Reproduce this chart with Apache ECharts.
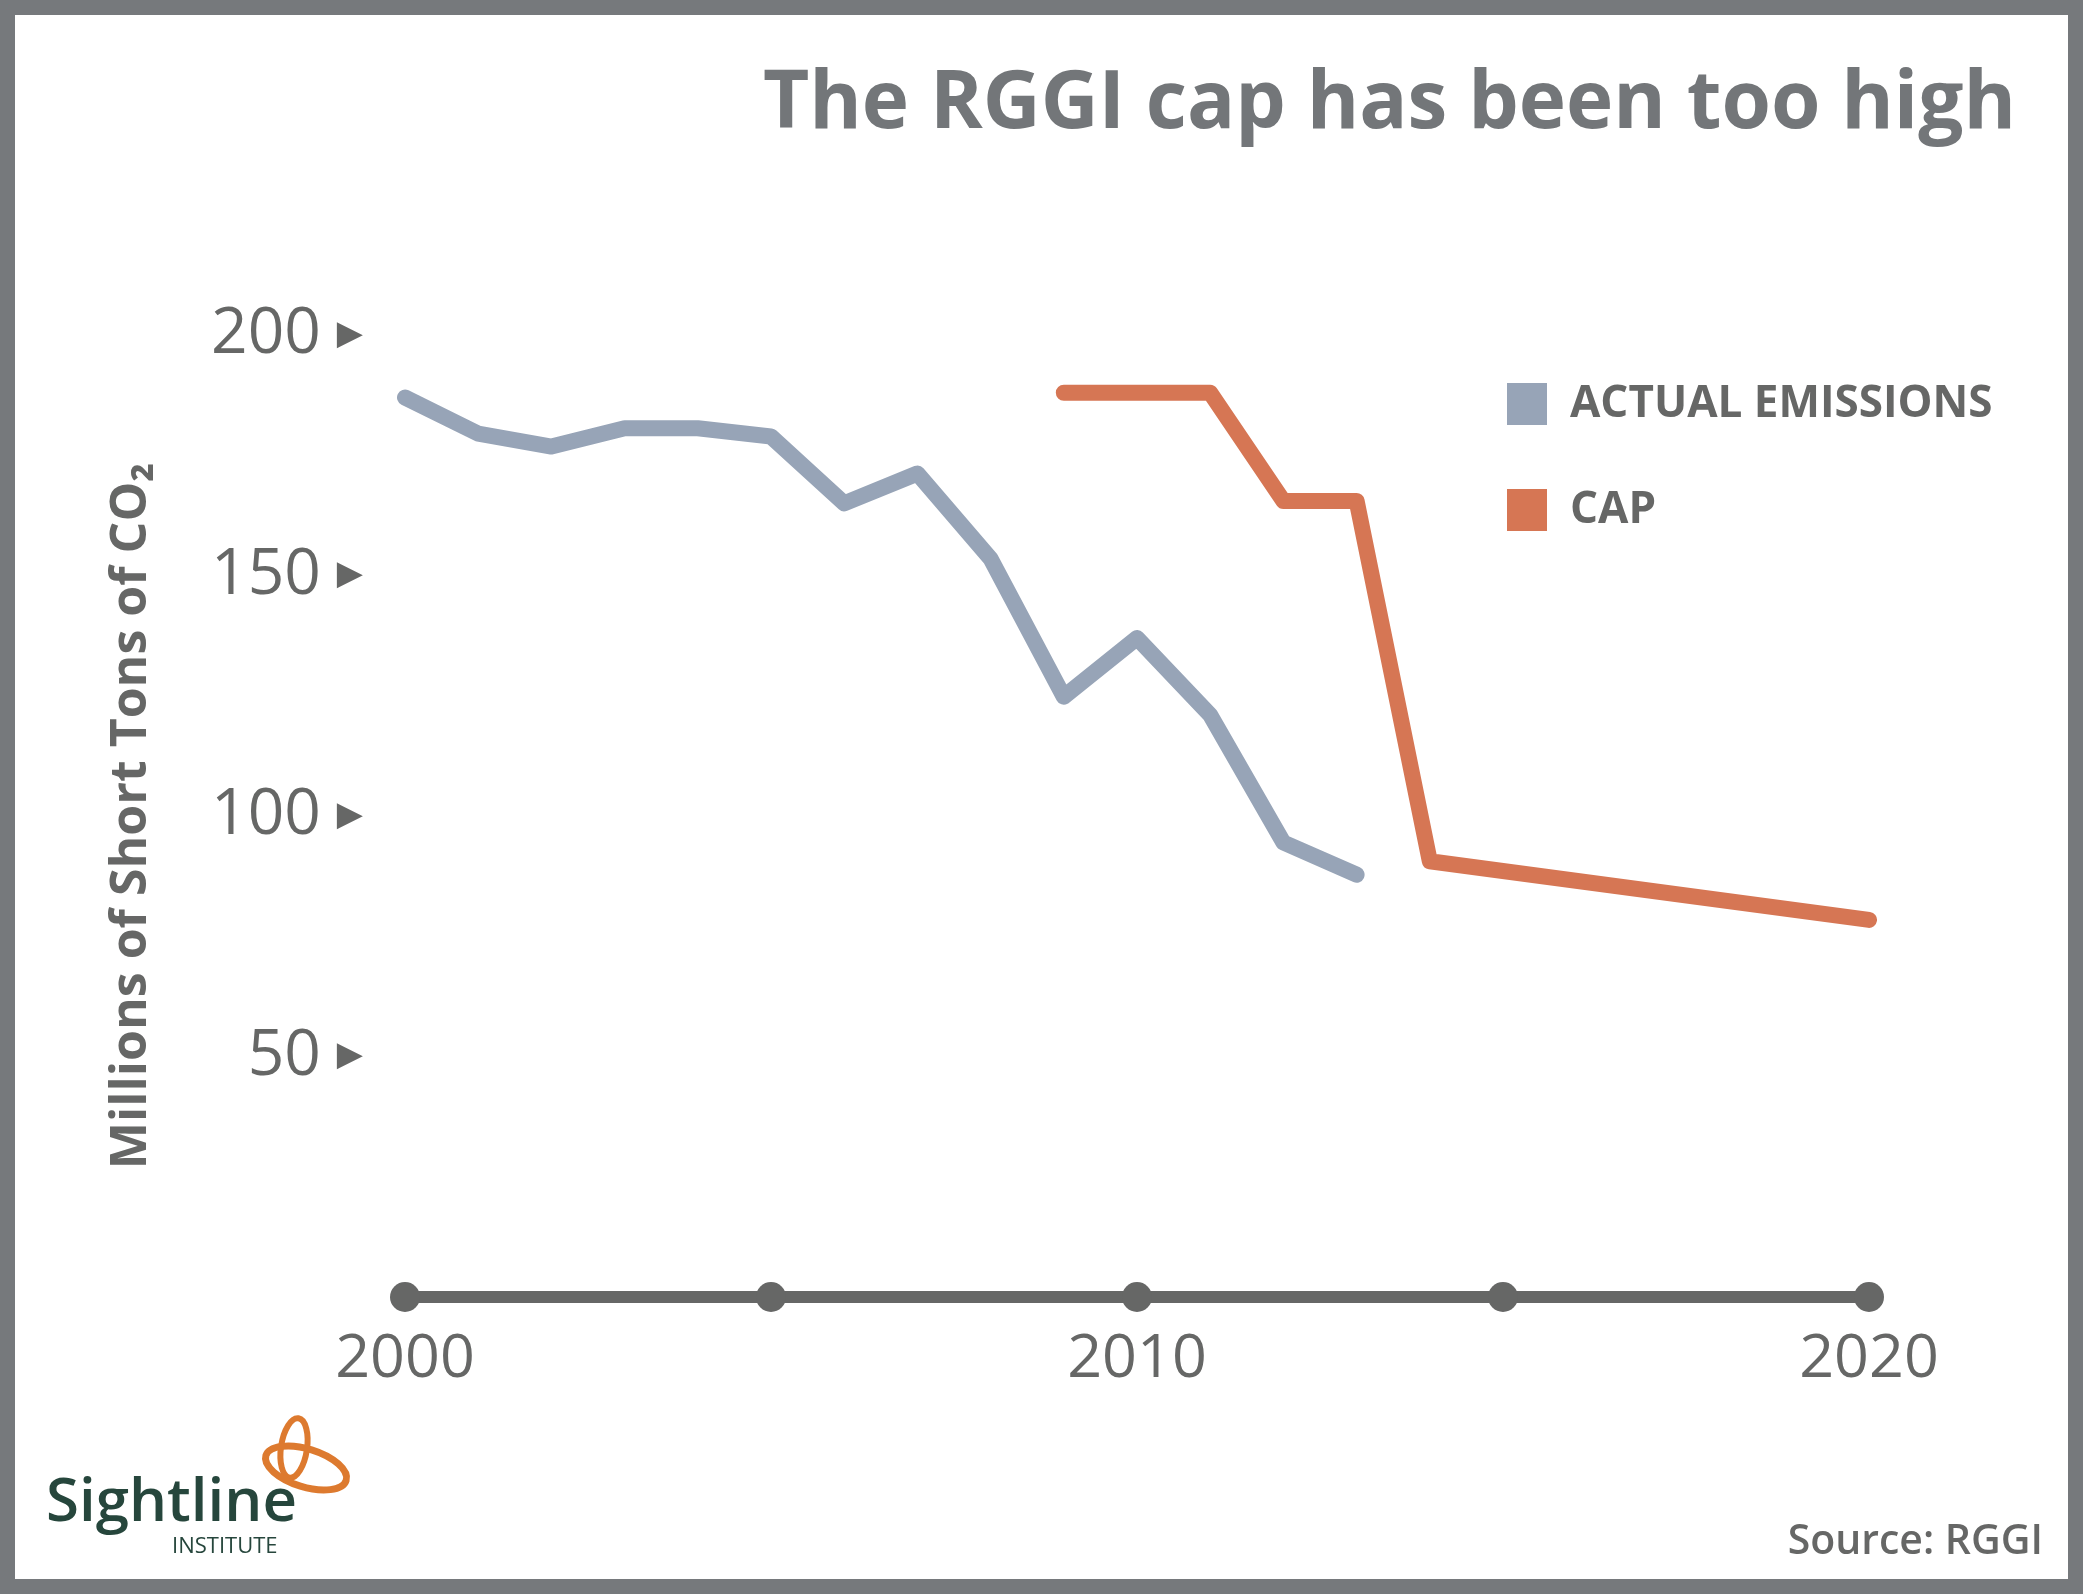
<!DOCTYPE html>
<html>
<head>
<meta charset="utf-8">
<title>The RGGI cap has been too high</title>
<script src="https://cdn.jsdelivr.net/npm/echarts@6/dist/echarts.min.js"></script>
<style>
  html, body { margin: 0; padding: 0; background: #fff; }
  #main { width: 2083px; height: 1594px; }
</style>
</head>
<body>
<div id="main"></div>
<script>
// data
var emissionYears = [2000, 2001, 2002, 2003, 2004, 2005, 2006, 2007, 2008, 2009, 2010, 2011, 2012, 2013];
var emissionValues = [187, 179.5, 176.8, 180.6, 180.6, 178.9, 165, 171.2, 153.5, 124.8, 137, 121, 94.5, 87.8];
var capYears = [2009, 2011, 2012, 2013, 2014, 2020];
var capValues = [188, 188, 165.5, 165.5, 90.6, 78.4];
var tickYears = [2000, 2005, 2010, 2015, 2020];
var yTicks = [50, 100, 150, 200];

var grey = '#666766';
var font = 'Open Sans';

function pairs(xs, ys) {
    return xs.map(function (x, i) { return [x, ys[i]]; });
}

var myChart = echarts.init(document.getElementById('main'));

var option = {
    backgroundColor: '#fff',
    animation: false,
    title: {
        text: 'The RGGI cap has been too high',
        right: 62,
        top: 60,
        textStyle: { fontFamily: font, fontSize: 80, fontWeight: 'bold', color: '#737679' }
    },
    legend: {
        data: ['ACTUAL EMISSIONS', 'CAP'],
        orient: 'vertical',
        left: 1502,
        top: 377,
        icon: 'rect',
        itemWidth: 40,
        itemHeight: 42,
        itemGap: 62,
        formatter: function (name) { return '{a|' + name + '}'; },
        textStyle: {
            rich: {
                a: { fontFamily: font, fontSize: 44, fontWeight: 'bold', color: grey, padding: [0, 0, 0, 18] }
            }
        }
    },
    grid: { left: 405, right: 214, top: 335, bottom: 297 },
    xAxis: {
        type: 'value',
        min: 2000,
        max: 2020,
        interval: 5,
        splitLine: { show: false },
        axisTick: { show: false },
        axisLine: { show: true, lineStyle: { color: grey, width: 12 } },
        axisLabel: {
            margin: 32,
            fontFamily: font,
            fontSize: 61,
            color: grey,
            formatter: function (v) { return v % 10 === 0 ? String(v) : ''; }
        }
    },
    yAxis: {
        type: 'value',
        min: 0,
        max: 200,
        interval: 50,
        name: 'Millions of Short Tons of CO₂',
        nameLocation: 'middle',
        nameRotate: 90,
        nameGap: 248,
        nameTextStyle: { fontFamily: font, fontSize: 50, fontWeight: 'bold', color: grey },
        splitLine: { show: false },
        axisLine: { show: false },
        axisTick: { show: false },
        axisLabel: {
            margin: 42,
            formatter: function (v) {
                return yTicks.indexOf(v) >= 0 ? '{n|' + v + '}{t|▶}' : '';
            },
            rich: {
                n: { fontFamily: font, fontSize: 64, color: grey, padding: [0, 16, 0, 0] },
                t: { fontFamily: 'DejaVu Sans', fontSize: 34, color: grey }
            }
        }
    },
    series: [
        {
            name: 'ACTUAL EMISSIONS',
            type: 'line',
            data: pairs(emissionYears, emissionValues),
            showSymbol: false,
            color: '#97a4b7',
            lineStyle: { width: 16, cap: 'round', join: 'round' },
            z: 3
        },
        {
            name: 'CAP',
            type: 'line',
            data: pairs(capYears, capValues),
            showSymbol: false,
            color: '#d67654',
            lineStyle: { width: 16, cap: 'round', join: 'round' },
            z: 4
        },
        {
            name: 'ticks',
            type: 'scatter',
            data: tickYears.map(function (y) { return [y, 0]; }),
            symbolSize: 30,
            itemStyle: { color: grey, opacity: 1 },
            clip: false,
            silent: true,
            z: 5
        }
    ],
    graphic: [
        {
            type: 'rect',
            shape: { x: 0, y: 0, width: 2083, height: 1594 },
            style: { fill: null, stroke: '#76797c', lineWidth: 30 },
            z: 100
        },
        {
            type: 'text',
            right: 40,
            top: 1522,
            style: { text: 'Source: RGGI', fontFamily: font, fontSize: 41, fontWeight: 600, fill: grey }
        },
        {
            type: 'text',
            left: 46,
            top: 1474,
            style: { text: 'Sightline', fontFamily: font, fontSize: 60, fontWeight: 600, fill: '#26463c' }
        },
        {
            type: 'text',
            left: 172,
            top: 1536,
            style: { text: 'INSTITUTE', fontFamily: font, fontSize: 22, fill: '#26463c' }
        },
        {
            type: 'ellipse',
            shape: { cx: 294, cy: 1448, rx: 13, ry: 30 },
            rotation: -0.15,
            originX: 294,
            originY: 1448,
            style: { fill: null, stroke: '#dd7a2f', lineWidth: 6 }
        },
        {
            type: 'ellipse',
            shape: { cx: 306, cy: 1468, rx: 42, ry: 19 },
            rotation: -0.3,
            originX: 306,
            originY: 1468,
            style: { fill: null, stroke: '#dd7a2f', lineWidth: 7 }
        }
    ]
};

myChart.setOption(option);
</script>
</body>
</html>
